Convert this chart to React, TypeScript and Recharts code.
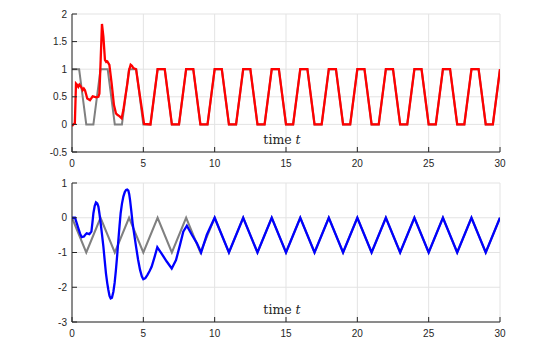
import { LineChart, Line, XAxis, YAxis, CartesianGrid, Label } from "recharts";

const AXIS = "#262626";
const GRID = "#e3e3e3";
const REF_GRAY = "#808080";

const xTicks = [0, 5, 10, 15, 20, 25, 30];
const topTicks = [-0.5, 0, 0.5, 1, 1.5, 2];
const bottomTicks = [-3, -2, -1, 0, 1];

// top panel: reference (gray trapezoid) and response (red)
const refTopT = [
  0, 0.5, 1, 1.5, 2, 2.5, 3, 3.5, 4, 4.5, 5, 5.5, 6, 6.5, 7, 7.5, 8, 8.5, 9, 9.5,
  10, 10.5, 11, 11.5, 12, 12.5, 13, 13.5, 14, 14.5, 15, 15.5, 16, 16.5, 17, 17.5,
  18, 18.5, 19, 19.5, 20, 20.5, 21, 21.5, 22, 22.5, 23, 23.5, 24, 24.5, 25, 25.5,
  26, 26.5, 27, 27.5, 28, 28.5, 29, 29.5, 30,
];
const refTopY = [
  1, 1, 0, 0, 1, 1, 0, 0, 1, 1, 0, 0, 1, 1, 0, 0, 1, 1, 0, 0,
  1, 1, 0, 0, 1, 1, 0, 0, 1, 1, 0, 0, 1, 1, 0, 0,
  1, 1, 0, 0, 1, 1, 0, 0, 1, 1, 0, 0, 1, 1, 0, 0,
  1, 1, 0, 0, 1, 1, 0, 0, 1,
];
const redT = [
  0, 0.14, 0.2, 0.28, 0.35, 0.44, 0.52, 0.61, 0.68, 0.75, 0.83, 0.91, 1.07, 1.26,
  1.45, 1.58, 1.68, 1.85, 1.92, 2.01, 2.1, 2.2, 2.31, 2.4, 2.48, 2.62, 2.78, 2.94,
  3.08, 3.2, 3.32, 3.48, 3.6, 3.75, 3.88, 4.0, 4.11, 4.2, 4.3, 4.49, 4.63, 4.77,
  4.92, 5.05,
  5.5, 6, 6.5, 7, 7.5, 8, 8.5, 9, 9.5, 10, 10.5, 11, 11.5, 12, 12.5, 13, 13.5,
  14, 14.5, 15, 15.5, 16, 16.5, 17, 17.5, 18, 18.5, 19, 19.5, 20, 20.5, 21, 21.5,
  22, 22.5, 23, 23.5, 24, 24.5, 25, 25.5, 26, 26.5, 27, 27.5, 28, 28.5, 29, 29.5, 30,
];
const redY = [
  -0.03, 0.01, 0.02, 0.74, 0.72, 0.68, 0.72, 0.69, 0.66, 0.62, 0.65, 0.62, 0.47, 0.44,
  0.51, 0.5, 0.49, 0.5, 0.56, 1.17, 1.82, 1.59, 1.17, 1.13, 1.14, 1.08, 0.74, 0.35,
  0.2, 0.17, 0.15, 0.11, 0.26, 0.52, 0.74, 0.98, 1.08, 1.06, 1.02, 1.0, 0.75, 0.5,
  0.24, 0.01,
  0, 1, 1, 0, 0, 1, 1, 0, 0, 1, 1, 0, 0, 1, 1, 0, 0,
  1, 1, 0, 0, 1, 1, 0, 0, 1, 1, 0, 0, 1, 1, 0, 0,
  1, 1, 0, 0, 1, 1, 0, 0, 1, 1, 0, 0, 1, 1, 0, 0, 1,
];

// bottom panel: reference (gray triangle) and response (blue)
const refBotT = [
  0, 1, 2, 3, 4, 5, 6, 7, 8, 9, 10, 11, 12, 13, 14, 15, 16, 17, 18, 19, 20,
  21, 22, 23, 24, 25, 26, 27, 28, 29, 30,
];
const refBotY = [
  0, -1, 0, -1, 0, -1, 0, -1, 0, -1, 0, -1, 0, -1, 0, -1, 0, -1, 0, -1, 0,
  -1, 0, -1, 0, -1, 0, -1, 0, -1, 0,
];
const blueT = [
  0, 0.21, 0.32, 0.44, 0.56, 0.68, 0.84, 0.95, 1.03, 1.22, 1.36, 1.43, 1.5, 1.59,
  1.68, 1.77, 1.85, 1.93, 2.01, 2.1, 2.2, 2.29, 2.38, 2.47, 2.55, 2.63, 2.71, 2.8,
  2.9, 2.99, 3.08, 3.17, 3.25, 3.33, 3.41, 3.5, 3.6, 3.7, 3.79, 3.87, 3.95, 4.01,
  4.07, 4.16, 4.25, 4.37, 4.49, 4.63, 4.77, 4.9, 5.0, 5.14, 5.28, 5.43, 5.58,
  5.78, 5.98, 6.28, 6.64, 6.99, 7.29, 7.57, 7.8, 8.05, 8.4, 8.75, 9.05, 9.45, 10,
  11, 12, 13, 14, 15, 16, 17, 18, 19, 20, 21, 22, 23, 24, 25, 26, 27, 28, 29, 30,
];
const blueY = [
  0, 0, -0.14, -0.3, -0.45, -0.56, -0.54, -0.48, -0.45, -0.47, -0.4, -0.15, 0.13, 0.34,
  0.44, 0.41, 0.32, 0.1, -0.16, -0.47, -0.83, -1.22, -1.6, -1.88, -2.08, -2.25, -2.32, -2.3,
  -2.13, -1.87, -1.5, -1.07, -0.64, -0.24, 0.13, 0.4, 0.61, 0.74, 0.8, 0.81, 0.78, 0.68,
  0.51, 0.18, -0.16, -0.5, -0.83, -1.2, -1.5, -1.69, -1.77, -1.74, -1.65, -1.54, -1.41,
  -1.14, -0.85, -1.03, -1.26, -1.46, -1.22, -0.78, -0.4, -0.23, -0.49, -0.73, -1.0, -0.49, 0,
  -1, 0, -1, 0, -1, 0, -1, 0, -1, 0, -1, 0, -1, 0, -1, 0, -1, 0, -1, 0,
];

const pairs = (t: number[], y: number[]) => t.map((x, i) => ({ t: x, y: y[i] }));

function TimeLabel(props: any) {
  const vb = props.viewBox || {};
  return (
    <text
      x={vb.x + vb.width / 2 - 4}
      y={vb.y - 8}
      textAnchor="middle"
      fontFamily="DejaVu Serif"
      fontSize={12.5}
      fill={AXIS}
    >
      time <tspan fontStyle="italic">t</tspan>
    </text>
  );
}

interface PanelProps {
  height: number;
  marginTop: number;
  xHeight: number;
  domain: [number, number];
  yTicks: number[];
  refData: { t: number; y: number }[];
  data: { t: number; y: number }[];
  color: string;
}

function Panel({ height, marginTop, xHeight, domain, yTicks, refData, data, color }: PanelProps) {
  const tickStyle = { fill: AXIS, fontSize: 10, fontFamily: "Liberation Sans" };
  return (
    <LineChart
      width={554}
      height={height}
      margin={{ top: marginTop, right: 54, bottom: 0, left: 32 }}
    >
      <CartesianGrid stroke={GRID} />
      <XAxis
        dataKey="t"
        type="number"
        domain={[0, 30]}
        ticks={xTicks}
        height={xHeight}
        stroke={AXIS}
        tick={tickStyle}
        tickSize={-5}
        tickMargin={13}
        allowDataOverflow
      >
        <Label content={TimeLabel} />
      </XAxis>
      <XAxis
        xAxisId="top"
        orientation="top"
        type="number"
        domain={[0, 30]}
        ticks={xTicks}
        height={0}
        stroke={AXIS}
        tick={false}
        tickSize={-5}
      />
      <YAxis
        type="number"
        domain={domain}
        ticks={yTicks}
        width={40}
        stroke={AXIS}
        tick={tickStyle}
        tickSize={-5}
        tickMargin={10}
        allowDataOverflow
      />
      <YAxis
        yAxisId="right"
        orientation="right"
        type="number"
        domain={domain}
        ticks={yTicks}
        width={0}
        stroke={AXIS}
        tick={false}
        tickSize={-5}
      />
      <Line
        data={refData}
        dataKey="y"
        type="linear"
        stroke={REF_GRAY}
        strokeWidth={2}
        dot={false}
        isAnimationActive={false}
      />
      <Line
        data={data}
        dataKey="y"
        type="linear"
        stroke={color}
        strokeWidth={2.3}
        dot={false}
        isAnimationActive={false}
      />
    </LineChart>
  );
}

export default function App() {
  return (
    <div
      style={{
        position: "absolute",
        left: 0,
        top: 0,
        width: 554,
        height: 340,
        overflow: "hidden",
        background: "#fff",
      }}
    >
      <div style={{ position: "absolute", left: 0, top: 0 }}>
        <Panel
          height={172}
          marginTop={14}
          xHeight={20}
          domain={[-0.5, 2]}
          yTicks={topTicks}
          refData={pairs(refTopT, refTopY)}
          data={pairs(redT, redY)}
          color="#ff0000"
        />
      </div>
      <div style={{ position: "absolute", left: 0, top: 172 }}>
        <Panel
          height={166}
          marginTop={11}
          xHeight={16}
          domain={[-3, 1]}
          yTicks={bottomTicks}
          refData={pairs(refBotT, refBotY)}
          data={pairs(blueT, blueY)}
          color="#0000ff"
        />
      </div>
    </div>
  );
}
